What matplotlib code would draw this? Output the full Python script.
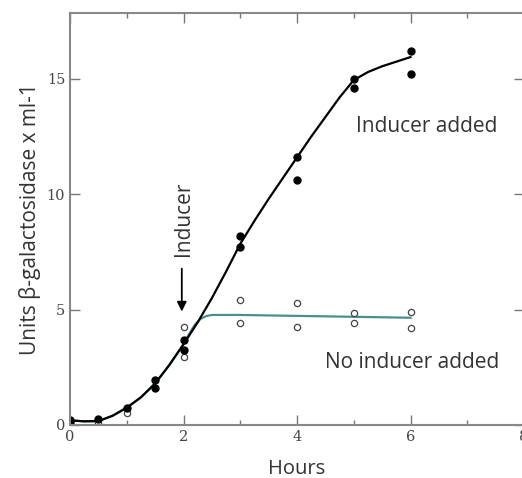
import matplotlib.pyplot as plt

# measured points, inducer added (filled)
ind_x = [0, 0, 0.5, 1, 1.5, 1.5, 2, 2, 3, 3, 4, 4, 5, 5, 6, 6]
ind_y = [0.2, 0.15, 0.25, 0.75, 1.95, 1.6, 3.7, 3.25, 8.2, 7.7, 11.6, 10.6, 15.0, 14.6, 16.2, 15.2]

# measured points, no inducer (open)
no_x = [0, 0.5, 1, 2, 2, 3, 3, 4, 4, 5, 5, 6, 6]
no_y = [0.1, 0.1, 0.5, 4.25, 2.95, 5.4, 4.4, 5.3, 4.25, 4.85, 4.4, 4.9, 4.2]

# fitted curves
fit_x = [0, 0.25, 0.5, 0.75, 1, 1.25, 1.5, 1.75, 2, 2.25, 2.5, 2.75, 3, 3.25, 3.5,
         3.75, 4, 4.25, 4.5, 4.75, 5, 5.25, 5.5, 5.75, 6]
fit_ind = [0.2, 0.16, 0.17, 0.4, 0.75, 1.2, 1.8, 2.6, 3.5, 4.45, 5.5, 6.65, 7.85, 8.85, 9.8,
           10.7, 11.6, 12.5, 13.35, 14.2, 14.95, 15.3, 15.55, 15.75, 15.95]

fit2_x = [0, 0.25, 0.5, 0.75, 1, 1.25, 1.5, 1.75, 2, 2.1, 2.2, 2.3, 2.4, 2.5, 3, 4, 5, 6]
fit_no = [0.2, 0.16, 0.17, 0.4, 0.75, 1.2, 1.8, 2.6, 3.5, 3.95, 4.35, 4.6, 4.72, 4.77, 4.77, 4.73, 4.69, 4.65]

fig = plt.figure(figsize=(5.22, 4.78), dpi=100)
ax = fig.add_axes([70/522, 53/478, 454/522, 412/478])

ax.plot(fit2_x, fit_no, color='#4a8f8f', lw=1.6)
ax.plot(fit_x, fit_ind, color='black', lw=1.6)
ax.plot(no_x, no_y, 'o', mfc='white', mec='#444444', ms=4.5, mew=0.9)
ax.plot(ind_x, ind_y, 'o', color='black', ms=5)

ax.set_xlim(0, 8)
ax.set_ylim(0, 17.86)
ax.set_xticks([0, 2, 4, 6, 8])
ax.set_xticks([1, 3, 5, 7], minor=True)
ax.set_yticks([0, 5, 10, 15])
ax.tick_params(which='both', direction='in', top=True, right=True, color='#777777',
               labelsize=10.5, labelcolor='#444444', width=1)
ax.tick_params(which='major', length=7)
ax.tick_params(which='minor', length=3.5)
for lab in ax.get_xticklabels() + ax.get_yticklabels():
    lab.set_family('DejaVu Serif')
for s in ax.spines.values():
    s.set_color('#888888')
    s.set_linewidth(1.5)

ax.set_xlabel('Hours', fontsize=14.5, color='#333333', family='Open Sans', labelpad=11)
ax.set_ylabel('Units β-galactosidase x ml-1', fontsize=15, color='#333333', family='Open Sans', labelpad=4)

ax.text(6.28, 12.95, 'Inducer added', fontsize=15, color='#333333', family='Open Sans', ha='center', va='center')
ax.text(6.03, 2.7, 'No inducer added', fontsize=15, color='#333333', family='Open Sans', ha='center', va='center')
ax.text(2.0, 8.95, 'Inducer', fontsize=15, color='#333333', family='Open Sans', rotation=90, ha='center', va='center')
ax.annotate('', xy=(1.97, 4.8), xytext=(1.97, 6.9),
            arrowprops=dict(arrowstyle='-|>', color='black', lw=1.3, mutation_scale=14))

fig.savefig('out.png', dpi=100)
